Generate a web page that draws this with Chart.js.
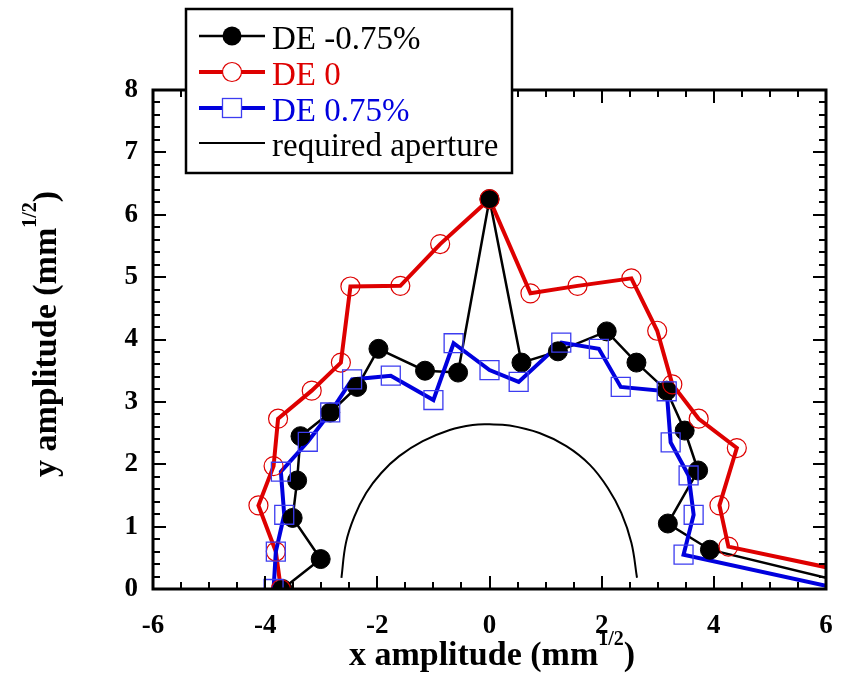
<!DOCTYPE html>
<html lang="en">
<head>
    <meta charset="UTF-8" />
    <title>Dynamic aperture</title>
    <script src="https://cdn.jsdelivr.net/npm/chart.js"></script>
    <style>
        body { margin: 0; background: #fff; }
    </style>
</head>
<body>
    <div style="width: 844px; height: 678px;">
        <canvas id="apertureChart" width="844" height="678"></canvas>
    </div>

    <script>
        const serif = "'Liberation Serif', 'Times New Roman', serif";

        const seriesNames = ['DE -0.75%', 'DE 0', 'DE 0.75%', 'required aperture'];

        // DE -0.75%
        const minusX = [-3.69, -3.01, -3.51, -3.43, -3.37, -2.84, -2.36, -1.98, -1.15, -0.56, 0.0, 0.57, 1.22, 2.09, 2.62, 3.16, 3.48, 3.72, 3.18, 3.93, 6.0];
        const minusY = [0.0, 0.48, 1.14, 1.74, 2.45, 2.83, 3.24, 3.85, 3.50, 3.47, 6.25, 3.63, 3.81, 4.13, 3.63, 3.18, 2.54, 1.90, 1.05, 0.63, 0.18];

        // DE 0
        const zeroX = [-3.72, -3.81, -4.12, -3.85, -3.77, -3.17, -2.65, -2.48, -1.59, -0.88, 0.0, 0.73, 1.57, 2.53, 2.99, 3.26, 3.73, 4.41, 4.10, 4.26, 6.0];
        const zeroY = [0.0, 0.60, 1.34, 1.97, 2.73, 3.18, 3.63, 4.85, 4.86, 5.53, 6.25, 4.74, 4.86, 4.98, 4.14, 3.28, 2.73, 2.26, 1.34, 0.68, 0.35];

        // DE 0.75%
        const plusX = [-3.85, -3.81, -3.66, -3.72, -3.24, -2.84, -2.45, -1.76, -1.0, -0.64, 0.0, 0.52, 1.28, 1.95, 2.34, 3.16, 3.23, 3.55, 3.64, 3.46, 6.0];
        const plusY = [0.0, 0.60, 1.19, 1.88, 2.36, 2.83, 3.36, 3.42, 3.03, 3.94, 3.51, 3.32, 3.95, 3.85, 3.24, 3.17, 2.35, 1.82, 1.19, 0.55, 0.05];

        // required aperture
        const reqX = [-2.64, -2.56, -2.41, -2.20, -1.93, -1.61, -1.19, -0.71, -0.30, 0.0, 0.36, 0.89, 1.37, 1.79, 2.11, 2.35, 2.53, 2.63];
        const reqY = [0.18, 0.74, 1.16, 1.54, 1.86, 2.13, 2.37, 2.55, 2.63, 2.64, 2.62, 2.50, 2.29, 1.99, 1.62, 1.22, 0.74, 0.18];

        const xTicks = [-6, -4, -2, 0, 2, 4, 6];
        const yTicks = [0, 1, 2, 3, 4, 5, 6, 7, 8];

        const red = 'rgb(222,0,0)';
        const blue = 'rgb(0,0,222)';
        const blueMark = 'rgb(60,60,240)';

        const toPoints = (xs, ys) => xs.map((x, i) => ({ x: x, y: ys[i] }));
        // the last point of each series sits on the right frame, no symbol there
        const hideLast = (r) => (c) => c.dataIndex === c.dataset.data.length - 1 ? 0 : r;

        const lineSet = (data, color, width, order) => ({
            data: data, showLine: true, borderColor: color, borderWidth: width,
            pointRadius: 0, pointHoverRadius: 0, order: order
        });

        // lines first, then all the symbols on top (lower order = drawn later)
        const datasets = [
            lineSet(toPoints(reqX, reqY), '#000', 2, 6),
            lineSet(toPoints(minusX, minusY), '#000', 2.5, 5),
            lineSet(toPoints(zeroX, zeroY), red, 4, 4),
            lineSet(toPoints(plusX, plusY), blue, 4, 3),
            {
                data: toPoints(minusX, minusY), showLine: false, order: 2,
                pointStyle: 'circle', pointRadius: hideLast(9.5),
                backgroundColor: '#000', borderColor: '#000', borderWidth: 1
            },
            {
                data: toPoints(zeroX, zeroY), showLine: false, order: 1,
                pointStyle: 'circle', pointRadius: hideLast(9.5),
                backgroundColor: 'rgba(0,0,0,0)', borderColor: red, borderWidth: 1.2
            },
            {
                data: toPoints(plusX, plusY), showLine: false, order: 0,
                pointStyle: 'rect', pointRadius: hideLast(13.4),
                backgroundColor: 'rgba(0,0,0,0)', borderColor: blueMark, borderWidth: 1.3
            }
        ];
        datasets[0].tension = 0.4;

        const framePlugin = {
            id: 'frame',
            afterDatasetsDraw(chart) {
                const { ctx, chartArea: a, scales } = chart;
                const sx = scales.x, sy = scales.y;
                ctx.save();
                ctx.strokeStyle = '#000';
                ctx.lineWidth = 2;
                ctx.beginPath();
                for (let i = 0; i <= 24; i++) {
                    const v = -6 + i * 0.5;
                    const px = Math.round(sx.getPixelForValue(v));
                    const len = i % 4 === 0 ? 13 : 7;
                    ctx.moveTo(px, a.bottom); ctx.lineTo(px, a.bottom - len);
                    ctx.moveTo(px, a.top); ctx.lineTo(px, a.top + len);
                }
                for (let i = 0; i <= 40; i++) {
                    const py = Math.round(sy.getPixelForValue(i * 0.2));
                    const len = i % 5 === 0 ? 13 : 7;
                    ctx.moveTo(a.left, py); ctx.lineTo(a.left + len, py);
                    ctx.moveTo(a.right, py); ctx.lineTo(a.right - len, py);
                }
                ctx.stroke();
                ctx.lineWidth = 3;
                ctx.strokeRect(a.left, a.top, a.right - a.left, a.bottom - a.top);
                ctx.restore();
            },
            afterDraw(chart) {
                const ctx = chart.ctx;
                ctx.save();

                // axis titles with superscript
                const drawTitle = (label, cx, base) => {
                    const main = 'bold 34px ' + serif;
                    const sup = 'bold 20px ' + serif;
                    ctx.font = main;
                    const w1 = ctx.measureText(label + ' (mm').width;
                    const w3 = ctx.measureText(')').width;
                    ctx.font = sup;
                    const w2 = ctx.measureText('1/2').width;
                    let x0 = cx - (w1 + w2 + w3) / 2;
                    ctx.fillStyle = '#000';
                    ctx.textBaseline = 'alphabetic';
                    ctx.textAlign = 'left';
                    ctx.font = main;
                    ctx.fillText(label + ' (mm', x0, base);
                    ctx.font = sup;
                    ctx.fillText('1/2', x0 + w1, base - 20);
                    ctx.font = main;
                    ctx.fillText(')', x0 + w1 + w2, base);
                };
                drawTitle('x amplitude', 492, 665);
                ctx.save();
                ctx.translate(56, 334);
                ctx.rotate(-Math.PI / 2);
                drawTitle('y amplitude', 0, 0);
                ctx.restore();

                // legend box
                ctx.fillStyle = '#fff';
                ctx.fillRect(186, 9, 326, 164);
                ctx.strokeStyle = '#000';
                ctx.lineWidth = 2.5;
                ctx.strokeRect(186, 9, 326, 164);

                const rows = [
                    { c: '#000', t: '#000', w: 2.5, mark: 'dot' },
                    { c: red, t: red, w: 4, mark: 'ring' },
                    { c: blue, t: blue, w: 4, mark: 'square' },
                    { c: '#000', t: '#000', w: 2, mark: null }
                ];
                const lineY = [36, 72, 108, 143];
                ctx.font = '33px ' + serif;
                rows.forEach((r, i) => {
                    const y = lineY[i];
                    ctx.strokeStyle = r.c;
                    ctx.lineWidth = r.w;
                    ctx.beginPath();
                    ctx.moveTo(199, y); ctx.lineTo(265, y);
                    ctx.stroke();
                    if (r.mark === 'dot') {
                        ctx.fillStyle = '#000';
                        ctx.beginPath(); ctx.arc(232, y, 9.5, 0, Math.PI * 2); ctx.fill();
                    } else if (r.mark === 'ring') {
                        ctx.fillStyle = '#fff';
                        ctx.strokeStyle = red; ctx.lineWidth = 1.2;
                        ctx.beginPath(); ctx.arc(232, y, 9.5, 0, Math.PI * 2); ctx.fill(); ctx.stroke();
                    } else if (r.mark === 'square') {
                        ctx.fillStyle = '#fff';
                        ctx.strokeStyle = blueMark; ctx.lineWidth = 1.3;
                        ctx.fillRect(222.5, y - 9.5, 19, 19);
                        ctx.strokeRect(222.5, y - 9.5, 19, 19);
                    }
                    ctx.fillStyle = r.t;
                    ctx.textAlign = 'left';
                    ctx.textBaseline = 'alphabetic';
                    ctx.fillText(seriesNames[i], 272, y + 13);
                });
                ctx.restore();
            }
        };

        const ctx = document.getElementById('apertureChart').getContext('2d');
        const apertureChart = new Chart(ctx, {
            type: 'scatter',
            data: { datasets: datasets },
            options: {
                responsive: false,
                animation: false,
                layout: { padding: { left: 0, top: 90, right: 18, bottom: 0 } },
                plugins: {
                    legend: { display: false },
                    tooltip: { enabled: false }
                },
                scales: {
                    x: {
                        type: 'linear', min: -6, max: 6,
                        afterFit: (s) => { s.height = 89; s.paddingLeft = 0; s.paddingRight = 0; },
                        afterBuildTicks: (s) => { s.ticks = xTicks.map(v => ({ value: v })); },
                        grid: { display: false, drawTicks: false },
                        border: { display: false },
                        ticks: { color: '#000', padding: 21, font: { family: serif, size: 27, weight: 'bold' } }
                    },
                    y: {
                        type: 'linear', min: 0, max: 8,
                        afterFit: (s) => { s.width = 153; s.paddingTop = 0; s.paddingBottom = 0; },
                        afterBuildTicks: (s) => { s.ticks = yTicks.map(v => ({ value: v })); },
                        grid: { display: false, drawTicks: false },
                        border: { display: false },
                        ticks: { color: '#000', padding: 15, font: { family: serif, size: 27, weight: 'bold' } }
                    }
                }
            },
            plugins: [framePlugin]
        });
    </script>
</body>
</html>
